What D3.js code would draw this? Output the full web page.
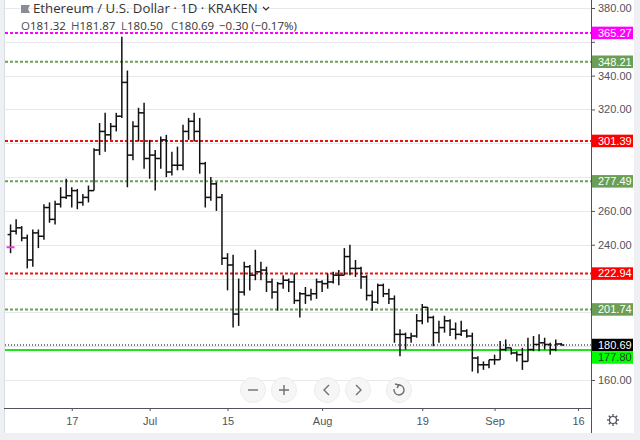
<!DOCTYPE html>
<html>
<head>
<meta charset="utf-8">
<script src="https://d3js.org/d3.v7.min.js"></script>
<style>
  body { margin: 0; background: #fff; }
  svg { display: block; font-family: "Open Sans", "Liberation Sans", sans-serif; }
</style>
</head>
<body>
<div id="chart"></div>
<script>
// daily bars, first one is 6 Jun 2019
const firstDay = "2019-06-06";
const opens = [
    246, 248, 250, 244, 231, 247, 245, 262, 255, 264, 268,
    269, 272, 265, 268, 272, 296, 307, 305, 310, 316,
    336, 293, 310, 318, 291, 293, 291, 302, 283, 287,
    287, 307, 313, 307, 288, 268, 276, 268, 232, 228,
    199, 212, 227, 222, 224, 225, 218, 212, 217, 219,
    218, 207, 211, 210, 211, 218, 217, 218, 222, 222,
    233, 226, 226, 221, 210, 206, 216, 211, 208, 187,
    187, 185, 186, 195, 203, 197, 188, 191, 195, 190,
    187, 189, 186, 173, 169, 169, 172, 172, 178, 179,
    176, 175, 171, 178, 181, 182, 181, 178, 181.32
];
const highs = [
    252, 255, 251, 246, 249, 249, 264, 265, 266, 274, 279,
    274, 273, 270, 275, 297, 312, 318, 312, 318, 363,
    343, 313, 321, 324, 302, 296, 304, 305, 295, 298,
    311, 315, 318, 315, 289, 280, 277, 270, 235, 234,
    220, 230, 228, 237, 230, 227, 220, 218, 222, 220,
    223, 212, 215, 214, 220, 219, 223, 224, 225, 238,
    240, 231, 227, 222, 213, 217, 217, 214, 210, 190,
    188, 188, 199, 205, 203, 198, 195, 198, 196, 194,
    195, 190, 188, 174, 171, 172, 175, 183, 184, 179,
    177, 179, 185, 186, 187, 185, 182, 184, 181.87
];
const lows = [
    235, 246, 242, 226, 227, 238, 243, 253, 252, 262, 267,
    262, 261, 263, 265, 272, 293, 295, 302, 307, 315,
    274, 290, 301, 285, 279, 272, 285, 280, 281, 284,
    284, 302, 301, 282, 262, 266, 260, 228, 213, 191,
    192, 210, 213, 219, 219, 212, 208, 201, 214, 212,
    205, 197, 205, 207, 208, 212, 214, 217, 216, 222,
    222, 221, 214, 207, 201, 205, 209, 205, 182, 174,
    178, 182, 185, 193, 194, 180, 182, 188, 186, 184,
    186, 185, 165, 164, 166, 167, 169, 172, 177, 175,
    171, 166, 171, 177, 177, 178, 175, 177, 180.5
];
const closes = [
    248, 250, 244, 231, 247, 245, 262, 255, 264, 268, 269,
    272, 265, 268, 272, 296, 307, 305, 310, 316, 336,
    293, 310, 318, 291, 293, 291, 302, 283, 287, 287,
    307, 313, 307, 288, 268, 276, 268, 232, 228, 199,
    212, 227, 222, 224, 225, 218, 212, 217, 219, 218,
    207, 211, 210, 211, 218, 217, 218, 222, 222, 233,
    226, 226, 221, 210, 206, 216, 211, 208, 187, 187,
    185, 186, 195, 203, 197, 188, 191, 195, 190, 187,
    189, 186, 173, 169, 169, 172, 172, 178, 179, 176,
    175, 171, 178, 181, 182, 181, 178, 181.3, 180.69
];

// horizontal levels drawn on the chart
const levelValues = [365.27, 348.21, 301.39, 277.49, 222.94, 201.74, 180.69, 177.80];
const levelKinds = ["alert", "minor", "major", "minor", "major", "minor", "last", "support"];

const priceTicks = [160, 180, 200, 220, 240, 260, 280, 300, 320, 340, 360, 380];
const timeTicks = ["2019-06-17", "2019-07-01", "2019-07-15", "2019-08-01", "2019-08-19", "2019-09-01", "2019-09-16"];

const legendTitle = "Ethereum / U.S. Dollar · 1D · KRAKEN";
const legendKeys = ["O", "H", "L", "C"];
const legendNums = ["181.32", "181.87", "180.50", "180.69"];
const legendChange = "−0.30 (−0.17%)";
const markerPrice = 238.5;

const kindStyle = {
    alert: { line: "#ff00ff", box: "#ff00ff", text: "#fff", dash: "3,2", w: 2 },
    minor: { line: "#6a9f55", box: "#6a9f55", text: "#fff", dash: "3,2", w: 2 },
    major: { line: "#f01010", box: "#ff0000", text: "#fff", dash: "3,2", w: 2 },
    last: { line: "#000", box: "#000", text: "#fff", dash: "1,2", w: 1 },
    support: { line: "#22e022", box: "#00ff00", text: "#2b3a2b", dash: null, w: 2 }
};

const width = 640,
    height = 440,
    plotLeft = 5,
    plotRight = 591,
    plotBottom = 408,
    boxH = 12.5;

const parse = d3.utcParse("%Y-%m-%d");
const start = parse(firstDay);
const bars = closes.map((c, i) => ({
    date: d3.utcDay.offset(start, i),
    o: opens[i], h: highs[i], l: lows[i], c: c
}));

const x = d3
    .scaleUtc()
    .domain([parse("2019-06-05"), new Date(Date.UTC(2019, 8, 18, 8))])
    .range([plotLeft, plotRight]);

const y = d3.scaleLinear().domain([160, 380]).range([380, 8]);

const svg = d3
    .select("#chart")
    .append("svg")
    .attr("width", width)
    .attr("height", height);

svg.append("rect").attr("width", width).attr("height", height).attr("fill", "#fff");

// frame strips
svg.append("rect").attr("x", 0).attr("y", 0).attr("width", 4).attr("height", height).attr("fill", "#eef0f4");
svg.append("rect").attr("x", 634).attr("y", 0).attr("width", 6).attr("height", height).attr("fill", "#eef0f4");
svg.append("rect").attr("x", 0).attr("y", 433).attr("width", width).attr("height", 7).attr("fill", "#eef0f4");
svg.append("line").attr("x1", 4.5).attr("x2", 4.5).attr("y1", 0).attr("y2", 433).attr("stroke", "#d9dde6");

svg.append("clipPath")
    .attr("id", "plot")
    .append("rect")
    .attr("x", plotLeft)
    .attr("y", 0)
    .attr("width", plotRight - plotLeft)
    .attr("height", plotBottom);

const plot = svg.append("g").attr("clip-path", "url(#plot)");

// grid
plot.selectAll(".grid")
    .data(priceTicks)
    .enter()
    .append("line")
    .attr("x1", plotLeft)
    .attr("x2", plotRight)
    .attr("y1", (d) => Math.round(y(d)) + 0.5)
    .attr("y2", (d) => Math.round(y(d)) + 0.5)
    .attr("stroke", "#e6e8ee");

// levels
plot.selectAll(".level")
    .data(levelValues)
    .enter()
    .append("line")
    .attr("x1", plotLeft)
    .attr("x2", plotRight)
    .attr("y1", (d) => y(d))
    .attr("y2", (d) => y(d))
    .attr("stroke", (d, i) => kindStyle[levelKinds[i]].line)
    .attr("stroke-width", (d, i) => kindStyle[levelKinds[i]].w)
    .attr("stroke-dasharray", (d, i) => kindStyle[levelKinds[i]].dash);

// OHLC bars
const tick = 3;
const g = plot.append("g").attr("stroke", "#111").attr("stroke-width", 1.5);
g.selectAll(".hl")
    .data(bars)
    .enter()
    .append("line")
    .attr("x1", (d) => x(d.date))
    .attr("x2", (d) => x(d.date))
    .attr("y1", (d) => y(d.h))
    .attr("y2", (d) => y(d.l));
g.selectAll(".op")
    .data(bars)
    .enter()
    .append("line")
    .attr("x1", (d) => x(d.date) - tick)
    .attr("x2", (d) => x(d.date))
    .attr("y1", (d) => y(d.o))
    .attr("y2", (d) => y(d.o));
g.selectAll(".cl")
    .data(bars)
    .enter()
    .append("line")
    .attr("x1", (d) => x(d.date))
    .attr("x2", (d) => x(d.date) + tick)
    .attr("y1", (d) => y(d.c))
    .attr("y2", (d) => y(d.c));

// little magenta anchor of the drawing
plot.append("line")
    .attr("x1", x(bars[0].date) - 4)
    .attr("x2", x(bars[0].date) + 4)
    .attr("y1", y(markerPrice))
    .attr("y2", y(markerPrice))
    .attr("stroke", "#e040e0")
    .attr("stroke-width", 2);

// label boxes: stack them down when they collide
const boxY = [];
levelValues
    .map((v, i) => ({ v: v, i: i, cy: y(v) }))
    .sort((a, b) => a.cy - b.cy)
    .forEach(function (b, k, arr) {
        if (k > 0 && b.cy - arr[k - 1].cy < boxH) b.cy = arr[k - 1].cy + boxH;
        boxY[b.i] = b.cy;
    });

// price axis, labels hidden where a box sits on them
const yAxis = svg
    .append("g")
    .attr("transform", `translate(${plotRight},0)`)
    .call(d3.axisRight(y).tickValues(priceTicks).tickFormat(d3.format(".2f")).tickSize(4).tickPadding(3));
yAxis.select(".domain").remove();
yAxis.selectAll("line").attr("stroke", "#50535e");
yAxis.selectAll("text")
    .attr("fill", "#50535e")
    .style("font-size", "11px")
    .style("font-family", "Liberation Sans, sans-serif")
    .filter((d) => boxY.some((cy) => Math.abs(cy - y(d)) < 12))
    .remove();

svg.append("line")
    .attr("x1", plotRight + 0.5)
    .attr("x2", plotRight + 0.5)
    .attr("y1", 0)
    .attr("y2", 433)
    .attr("stroke", "#50535e");

const boxes = svg.append("g");
levelValues.forEach(function (v, i) {
    const st = kindStyle[levelKinds[i]];
    boxes.append("rect")
        .attr("x", plotRight + 1)
        .attr("y", boxY[i] - boxH / 2)
        .attr("width", 41)
        .attr("height", boxH)
        .attr("fill", st.box);
    boxes.append("text")
        .attr("x", 598)
        .attr("y", boxY[i])
        .attr("dy", "0.35em")
        .attr("fill", st.text)
        .style("font-size", "11px")
        .style("font-family", "Liberation Sans, sans-serif")
        .text(d3.format(".2f")(v));
});

// time axis
const fmtDay = d3.utcFormat("%-d"),
    fmtMonth = d3.utcFormat("%b");
const xAxis = svg
    .append("g")
    .attr("transform", `translate(0,${plotBottom})`)
    .call(
        d3.axisBottom(x)
            .tickValues(timeTicks.map(parse))
            .tickFormat((d) => (d.getUTCDate() === 1 ? fmtMonth(d) : fmtDay(d)))
            .tickSize(3)
            .tickPadding(6)
    );
xAxis.select(".domain").remove();
xAxis.selectAll("line").attr("stroke", "#50535e");
xAxis.selectAll("text").attr("fill", "#50535e").style("font-size", "11px").style("font-family", "Liberation Sans, sans-serif");

svg.append("line")
    .attr("x1", 4)
    .attr("x2", plotRight)
    .attr("y1", plotBottom + 0.5)
    .attr("y2", plotBottom + 0.5)
    .attr("stroke", "#50535e");

// settings gear
const gear = svg.append("g").attr("transform", "translate(613,420)").attr("stroke", "#50535e").attr("fill", "none");
gear.append("circle").attr("r", 3.5).attr("stroke-width", 1.2);
d3.range(8).forEach(function (k) {
    const a = (k * Math.PI) / 4;
    gear.append("line")
        .attr("x1", Math.cos(a) * 3.5)
        .attr("y1", Math.sin(a) * 3.5)
        .attr("x2", Math.cos(a) * 6)
        .attr("y2", Math.sin(a) * 6)
        .attr("stroke-width", 1.3);
});

// navigation buttons
const navX = [253, 284, 327, 358, 399];
const nav = svg.append("g");
navX.forEach(function (cx, i) {
    const b = nav.append("g").attr("transform", `translate(${cx},390)`);
    b.append("circle").attr("r", 12.5).attr("fill", "#f6f6f7").attr("stroke", "#ececef");
    const p = b.append("path").attr("fill", "none").attr("stroke", "#707070").attr("stroke-width", 1.4);
    if (i === 0) p.attr("d", "M-5,0H5");
    if (i === 1) p.attr("d", "M-5,0H5M0,-5V5");
    if (i === 2) p.attr("d", "M2,-5L-3,0L2,5");
    if (i === 3) p.attr("d", "M-2,-5L3,0L-2,5");
    if (i === 4) {
        p.attr("d", d3.arc()({ innerRadius: 5, outerRadius: 5, startAngle: -0.3, endAngle: 4.9 }));
        b.append("path").attr("d", "M-4,-6L0,-5L-2,-2").attr("fill", "none").attr("stroke", "#707070").attr("stroke-width", 1.4);
    }
});

// legend
const legend = svg.append("g").attr("fill", "#333");
legend.append("path")
    .attr("d", "M21,5H30L28,9L30,13H21Z")
    .attr("fill", "#8a8d96");
const title = legend.append("text")
    .attr("x", 33)
    .attr("y", 13)
    .style("font-size", "12.5px")
    .text(legendTitle);
// fit title to the width seen in the reference
const tw0 = title.node().getComputedTextLength();
title.style("font-size", (12.5 * 225) / tw0 + "px");
legend.append("path")
    .attr("d", "M263,7l3,3l3,-3")
    .attr("fill", "none")
    .attr("stroke", "#333")
    .attr("stroke-width", 1.2);

legendKeys.forEach(function (k, i) {
    const t = legend.append("text").attr("x", 21 + 50 * i).attr("y", 29.5).style("font-size", "11.5px");
    t.append("tspan").attr("fill", "#555").text(k);
    t.append("tspan").attr("fill", "#333").text(legendNums[i]);
});
legend.append("text").attr("x", 219).attr("y", 29.5).style("font-size", "11.5px").text(legendChange);
</script>
</body>
</html>
